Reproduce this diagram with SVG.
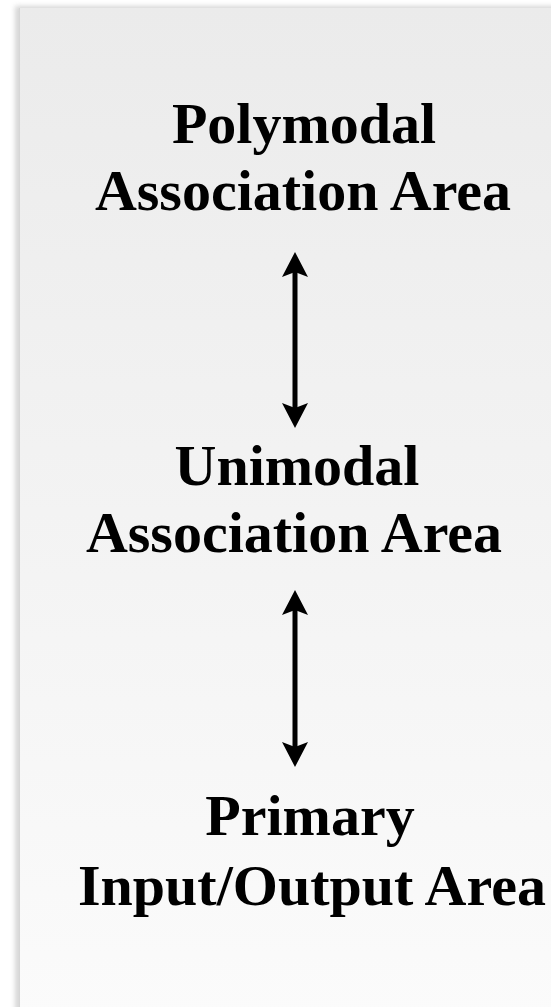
<svg xmlns="http://www.w3.org/2000/svg" width="551" height="1007" viewBox="0 0 551 1007">
  <style>
    .label { font-family: "Liberation Serif", "Times New Roman", serif; font-weight: bold; font-size: 58px; fill: #000; text-anchor: middle; }
    .shaft { stroke: #000; stroke-width: 5; fill: none; }
    .head { fill: #000; }
  </style>
  <defs>
    <linearGradient id="panelFill" x1="0" y1="0" x2="0" y2="1">
      <stop offset="0" stop-color="#ebebeb"/>
      <stop offset="1" stop-color="#fbfbfb"/>
    </linearGradient>
    <filter id="softShadow" x="-20%" y="-5%" width="140%" height="110%">
      <feGaussianBlur stdDeviation="2.5"/>
    </filter>
  </defs>

  <rect width="551" height="1007" fill="#ffffff"/>

  <!-- panel with a soft drop shadow on the left -->
  <rect x="15" y="6" width="560" height="1010" fill="#9a9a9a" opacity="0.4" filter="url(#softShadow)"/>
  <rect x="19" y="8" width="540" height="1010" fill="url(#panelFill)"/>
  <line x1="19.5" y1="8" x2="19.5" y2="1007" stroke="#d6d6d6" stroke-width="1"/>

  <g id="node-polymodal">
    <text class="label" x="304" y="143">Polymodal</text>
    <text class="label" x="303" y="210">Association Area</text>
  </g>

  <g id="node-unimodal">
    <text class="label" x="297" y="485">Unimodal</text>
    <text class="label" x="294" y="552">Association Area</text>
  </g>

  <g id="node-primary">
    <text class="label" x="310" y="835">Primary</text>
    <text class="label" x="312" y="905">Input/Output Area</text>
  </g>

  <g id="connectors">
    <!-- polymodal <-> unimodal -->
    <line class="shaft" x1="295" y1="272" x2="295" y2="408"/>
    <path class="head" d="M295 252 L282 277 L295 272 L308 277 Z"/>
    <path class="head" d="M295 428 L282 403 L295 408 L308 403 Z"/>
    <!-- unimodal <-> primary -->
    <line class="shaft" x1="295" y1="610" x2="295" y2="747"/>
    <path class="head" d="M295 590 L282 615 L295 610 L308 615 Z"/>
    <path class="head" d="M295 767 L282 742 L295 747 L308 742 Z"/>
  </g>
</svg>
